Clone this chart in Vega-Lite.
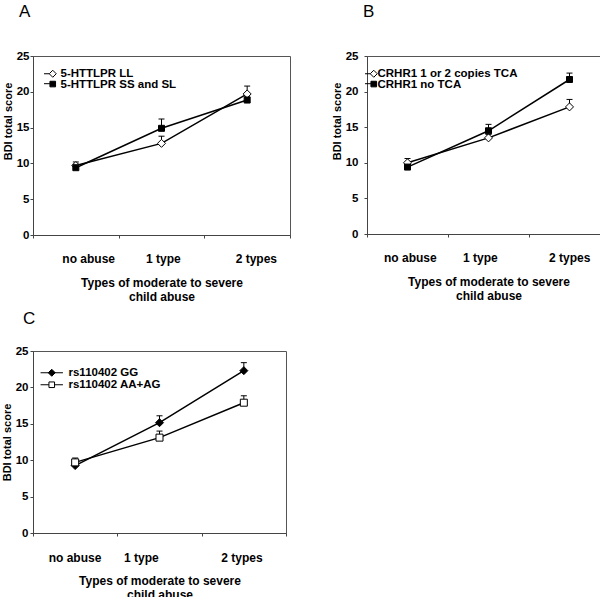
{
  "$schema": "https://vega.github.io/schema/vega-lite/v6.json",
  "background": "white",
  "padding": {"left": 0, "top": 2, "right": 0, "bottom": 0},
  "datasets": {
    "A": [
      {"cat": "no abuse", "series": "5-HTTLPR LL", "score": 9.7, "upper": 10.2},
      {"cat": "1 type", "series": "5-HTTLPR LL", "score": 12.8, "upper": 13.8},
      {"cat": "2 types", "series": "5-HTTLPR LL", "score": 19.7, "upper": 20.8},
      {"cat": "no abuse", "series": "5-HTTLPR SS and SL", "score": 9.4, "upper": 9.9},
      {"cat": "1 type", "series": "5-HTTLPR SS and SL", "score": 14.9, "upper": 16.2},
      {"cat": "2 types", "series": "5-HTTLPR SS and SL", "score": 18.85, "upper": 19.3}
    ],
    "B": [
      {"cat": "no abuse", "series": "CRHR1 1 or 2 copies TCA", "score": 10.0, "upper": 10.6},
      {"cat": "1 type", "series": "CRHR1 1 or 2 copies TCA", "score": 13.5, "upper": 14.0},
      {"cat": "2 types", "series": "CRHR1 1 or 2 copies TCA", "score": 17.85, "upper": 18.9},
      {"cat": "no abuse", "series": "CRHR1 no TCA", "score": 9.4, "upper": 9.9},
      {"cat": "1 type", "series": "CRHR1 no TCA", "score": 14.5, "upper": 15.4},
      {"cat": "2 types", "series": "CRHR1 no TCA", "score": 21.7, "upper": 22.6}
    ],
    "C": [
      {"cat": "no abuse", "series": "rs110402 GG", "score": 9.26, "upper": 9.8},
      {"cat": "1 type", "series": "rs110402 GG", "score": 15.15, "upper": 16.1},
      {"cat": "2 types", "series": "rs110402 GG", "score": 22.3, "upper": 23.4},
      {"cat": "no abuse", "series": "rs110402 AA+AG", "score": 9.7, "upper": 10.3},
      {"cat": "1 type", "series": "rs110402 AA+AG", "score": 13.1, "upper": 14.0},
      {"cat": "2 types", "series": "rs110402 AA+AG", "score": 17.9, "upper": 18.85}
    ]
  },
  "config": {
    "view": {"stroke": "#555", "strokeWidth": 1},
    "axis": {
      "labelFont": "Liberation Sans", "labelFontWeight": "bold", "labelColor": "black",
      "titleFont": "Liberation Sans", "titleFontWeight": "bold", "titleColor": "black",
      "domainColor": "#444", "tickColor": "#444", "tickSize": 3, "grid": false
    },
    "legend": {
      "labelFont": "Liberation Sans", "labelFontWeight": "bold", "labelColor": "black",
      "labelFontSize": 11.5, "labelLimit": 0, "padding": 0, "rowPadding": 0,
      "symbolOffset": 0, "symbolStrokeWidth": 1, "symbolStrokeColor": "black", "symbolSize": 49
    },
    "title": {"font": "Liberation Sans", "fontWeight": "normal", "fontSize": 17, "color": "black", "anchor": "start", "frame": "group", "baseline": "bottom"}
  },
  "resolve": {"scale": {"fill": "independent"}, "legend": {"fill": "independent"}},
  "vconcat": [
    {
      "resolve": {"scale": {"fill": "independent"}, "legend": {"fill": "independent"}},
      "hconcat": [
        {
          "width": 257, "height": 179,
          "title": {"text": "A", "dx": -14, "offset": 29},
          "data": {"name": "A"},
          "resolve": {"scale": {"fill": "independent"}, "legend": {"fill": "independent"}},
          "encoding": {
            "x": {"field": "cat", "type": "nominal", "sort": ["no abuse", "1 type", "2 types"],
                  "scale": {"paddingInner": 0, "paddingOuter": 0},
                  "axis": {"title": ["Types of moderate to severe", "child abuse"], "labelAngle": 0, "labelFontSize": 12, "titleFontSize": 12, "titleLineHeight": 14, "labelPadding": 15, "titlePadding": 13, "tickBand": "extent", "labelAlign": "left",
                           "labelOffset": {"condition": [{"test": "datum.value == '1 type'", "value": -16}, {"test": "datum.value == 'no abuse'", "value": -14}], "value": -12}}},
            "y": {"field": "score", "type": "quantitative", "scale": {"domain": [0, 25], "nice": false},
                  "axis": {"values": [0, 5, 10, 15, 20, 25], "title": "BDI total score", "labelFontSize": 11.5, "titleFontSize": 11, "labelPadding": 1, "titlePadding": 3, "titleY": 65}}
          },
          "layer": [
            {"mark": {"type": "line", "color": "black", "strokeWidth": 1.5}, "encoding": {"detail": {"field": "series"}}},
            {"mark": {"type": "rule", "color": "black", "strokeWidth": 1}, "encoding": {"y2": {"field": "upper"}}},
            {"mark": {"type": "tick", "color": "black", "size": 6, "thickness": 1, "opacity": 1}, "encoding": {"y": {"field": "upper", "type": "quantitative"}}},
            {"mark": {"type": "point", "filled": true, "stroke": "black", "strokeWidth": 1, "opacity": 1},
             "encoding": {
               "shape": {"condition": {"test": "datum.series == '5-HTTLPR LL'", "value": "diamond"}, "value": "square"},
               "fill": {"condition": {"test": "datum.series == '5-HTTLPR LL'", "value": "white"}, "value": "black"},
               "size": {"condition": {"test": "datum.series == '5-HTTLPR LL'", "value": 64}, "value": 36}
             }},
            {"transform": [{"filter": "datum.score < 0"}],
             "mark": {"type": "point", "filled": true, "stroke": "black", "strokeWidth": 1, "opacity": 1},
             "encoding": {
               "fill": {"field": "series", "type": "nominal",
                        "scale": {"domain": ["5-HTTLPR LL"], "range": ["white"]},
                        "legend": {"orient": "none", "legendX": 14, "legendY": 12, "title": null, "labelOffset": 2, "symbolSize": 49,
                                   "symbolType": "M-2.5,0H-1M-1,0L0,-1L1,0L0,1Z",
                                   "encode": {"symbols": {"update": {"stroke": {"value": "black"}, "strokeWidth": {"value": 1}}}}}}
             }},
            {"transform": [{"filter": "datum.score < 0"}],
             "mark": {"type": "point", "filled": true, "stroke": "black", "strokeWidth": 1, "opacity": 1},
             "encoding": {
               "fill": {"field": "series", "type": "nominal",
                        "scale": {"domain": ["5-HTTLPR SS and SL"], "range": ["black"]},
                        "legend": {"orient": "none", "legendX": 14, "legendY": 23, "title": null, "labelOffset": 2, "symbolSize": 49,
                                   "symbolType": "M-2.5,-0.3H-0.8M-0.8,-1H0.8V0.6H-0.8Z",
                                   "encode": {"symbols": {"update": {"stroke": {"value": "black"}, "strokeWidth": {"value": 1}}}}}}
             }}
          ]
        },
        {
          "width": 243, "height": 178,
          "title": {"text": "B", "dx": -4, "offset": 29},
          "data": {"name": "B"},
          "resolve": {"scale": {"fill": "independent"}, "legend": {"fill": "independent"}},
          "encoding": {
            "x": {"field": "cat", "type": "nominal", "sort": ["no abuse", "1 type", "2 types"],
                  "scale": {"paddingInner": 0, "paddingOuter": 0},
                  "axis": {"title": ["Types of moderate to severe", "child abuse"], "labelAngle": 0, "labelFontSize": 12, "titleFontSize": 12, "titleLineHeight": 14, "labelPadding": 15, "titlePadding": 13, "tickBand": "extent", "labelAlign": "left",
                           "labelOffset": {"condition": [{"test": "datum.value == '1 type'", "value": -26}, {"test": "datum.value == 'no abuse'", "value": -24}], "value": -21}}},
            "y": {"field": "score", "type": "quantitative", "scale": {"domain": [0, 25], "nice": false},
                  "axis": {"values": [0, 5, 10, 15, 20, 25], "title": "BDI total score", "labelFontSize": 11.5, "titleFontSize": 11, "labelPadding": 6, "titlePadding": 3, "titleY": 65}}
          },
          "layer": [
            {"mark": {"type": "line", "color": "black", "strokeWidth": 1.5}, "encoding": {"detail": {"field": "series"}}},
            {"mark": {"type": "rule", "color": "black", "strokeWidth": 1}, "encoding": {"y2": {"field": "upper"}}},
            {"mark": {"type": "tick", "color": "black", "size": 6, "thickness": 1, "opacity": 1}, "encoding": {"y": {"field": "upper", "type": "quantitative"}}},
            {"mark": {"type": "point", "filled": true, "stroke": "black", "strokeWidth": 1, "opacity": 1},
             "encoding": {
               "shape": {"condition": {"test": "datum.series == 'CRHR1 1 or 2 copies TCA'", "value": "diamond"}, "value": "square"},
               "fill": {"condition": {"test": "datum.series == 'CRHR1 1 or 2 copies TCA'", "value": "white"}, "value": "black"},
               "size": {"condition": {"test": "datum.series == 'CRHR1 1 or 2 copies TCA'", "value": 64}, "value": 36}
             }},
            {"transform": [{"filter": "datum.score < 0"}],
             "mark": {"type": "point", "filled": true, "stroke": "black", "strokeWidth": 1, "opacity": 1},
             "encoding": {
               "fill": {"field": "series", "type": "nominal",
                        "scale": {"domain": ["CRHR1 1 or 2 copies TCA"], "range": ["white"]},
                        "legend": {"orient": "none", "legendX": 1, "legendY": 12, "title": null, "labelOffset": -2, "symbolSize": 49,
                                   "symbolType": "M-2.5,0H-1M-1,0L0,-1L1,0L0,1Z",
                                   "encode": {"symbols": {"update": {"stroke": {"value": "black"}, "strokeWidth": {"value": 1}}}}}}
             }},
            {"transform": [{"filter": "datum.score < 0"}],
             "mark": {"type": "point", "filled": true, "stroke": "black", "strokeWidth": 1, "opacity": 1},
             "encoding": {
               "fill": {"field": "series", "type": "nominal",
                        "scale": {"domain": ["CRHR1 no TCA"], "range": ["black"]},
                        "legend": {"orient": "none", "legendX": 1, "legendY": 23, "title": null, "labelOffset": -2, "symbolSize": 49,
                                   "symbolType": "M-2.5,-0.3H-0.8M-0.8,-1H0.8V0.6H-0.8Z",
                                   "encode": {"symbols": {"update": {"stroke": {"value": "black"}, "strokeWidth": {"value": 1}}}}}}
             }}
          ]
        }
      ],
      "spacing": 39
    },
    {
      "width": 253, "height": 182,
      "title": {"text": "C", "dx": -10, "offset": 17},
      "data": {"name": "C"},
      "resolve": {"scale": {"fill": "independent"}, "legend": {"fill": "independent"}},
      "encoding": {
        "x": {"field": "cat", "type": "nominal", "sort": ["no abuse", "1 type", "2 types"],
              "scale": {"paddingInner": 0, "paddingOuter": 0},
              "axis": {"title": ["Types of moderate to severe", "child abuse"], "labelAngle": 0, "labelFontSize": 12, "titleFontSize": 12, "titleLineHeight": 14, "labelPadding": 16, "titlePadding": 12, "tickBand": "extent", "labelAlign": "left",
                       "labelOffset": {"condition": [{"test": "datum.value == '1 type'", "value": -36}, {"test": "datum.value == 'no abuse'", "value": -27}], "value": -23}}},
        "y": {"field": "score", "type": "quantitative", "scale": {"domain": [0, 25], "nice": false},
              "axis": {"values": [0, 5, 10, 15, 20, 25], "title": "BDI total score", "labelFontSize": 11.5, "titleFontSize": 11, "labelPadding": 2, "titlePadding": 3}}
      },
      "layer": [
        {"mark": {"type": "line", "color": "black", "strokeWidth": 1.5}, "encoding": {"detail": {"field": "series"}}},
        {"mark": {"type": "rule", "color": "black", "strokeWidth": 1}, "encoding": {"y2": {"field": "upper"}}},
        {"mark": {"type": "tick", "color": "black", "size": 6, "thickness": 1, "opacity": 1}, "encoding": {"y": {"field": "upper", "type": "quantitative"}}},
        {"mark": {"type": "point", "filled": true, "stroke": "black", "strokeWidth": 1, "opacity": 1},
         "encoding": {
           "shape": {"condition": {"test": "datum.series == 'rs110402 GG'", "value": "diamond"}, "value": "square"},
           "fill": {"condition": {"test": "datum.series == 'rs110402 GG'", "value": "black"}, "value": "white"},
           "size": {"condition": {"test": "datum.series == 'rs110402 GG'", "value": 64}, "value": 49}
         }},
        {"transform": [{"filter": "datum.score < 0"}],
         "mark": {"type": "point", "filled": true, "stroke": "black", "strokeWidth": 1, "opacity": 1},
         "encoding": {
           "fill": {"field": "series", "type": "nominal",
                    "scale": {"domain": ["rs110402 GG"], "range": ["black"]},
                    "legend": {"orient": "none", "legendX": 13, "legendY": 16, "title": null, "labelOffset": 11, "symbolSize": 49,
                               "symbolType": "M-3.2,0H3.2M-1,0L0,-1L1,0L0,1Z",
                               "encode": {"symbols": {"update": {"stroke": {"value": "black"}, "strokeWidth": {"value": 1}}}}}}
         }},
        {"transform": [{"filter": "datum.score < 0"}],
         "mark": {"type": "point", "filled": true, "stroke": "black", "strokeWidth": 1, "opacity": 1},
         "encoding": {
           "fill": {"field": "series", "type": "nominal",
                    "scale": {"domain": ["rs110402 AA+AG"], "range": ["white"]},
                    "legend": {"orient": "none", "legendX": 13, "legendY": 28, "title": null, "labelOffset": 11, "symbolSize": 49,
                               "symbolType": "M-3.2,0H-0.8M0.8,0H3.2M-0.8,-0.8H0.8V0.8H-0.8Z",
                               "encode": {"symbols": {"update": {"stroke": {"value": "black"}, "strokeWidth": {"value": 1}}}}}}
         }}
      ]
    }
  ],
  "spacing": 6
}
